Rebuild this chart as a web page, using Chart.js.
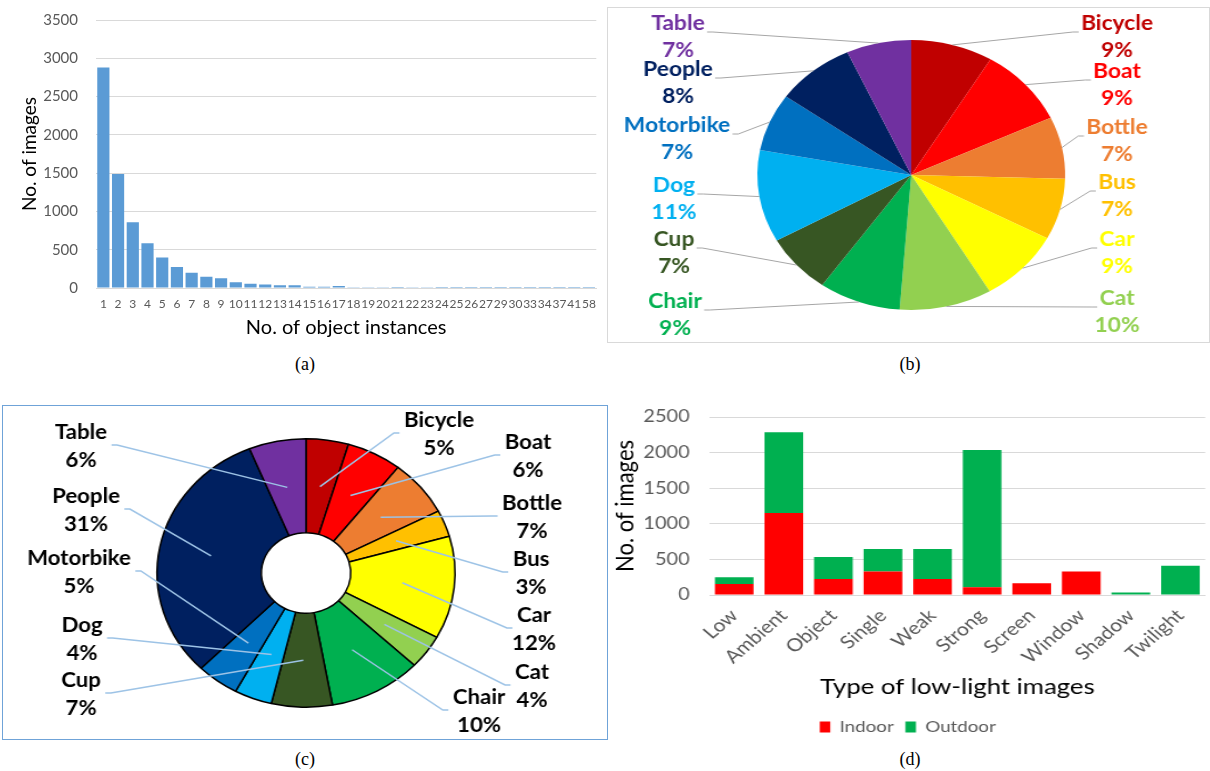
<!DOCTYPE html>
<html>
<head>
<meta charset="utf-8">
<script src="https://cdn.jsdelivr.net/npm/chart.js@4.4.0/dist/chart.umd.min.js"></script>
<style>
  html, body { margin: 0; padding: 0; background: #fff; }
  body { width: 1210px; height: 771px; position: relative; overflow: hidden; }
  .panel { position: absolute; }
  .stretch { position: absolute; left: 0; top: 0; transform-origin: 0 0; }
  .cap { position: absolute; font-family: "Liberation Serif", serif; font-size: 18px; color: #000; transform: translateX(-50%); }
</style>
</head>
<body>
<div class="panel" style="left:0;top:0;width:605px;height:345px"><canvas id="chartA"></canvas></div>
<div class="panel" style="left:607px;top:7px;width:601px;height:334px;border:1px solid #d9d9d9">
  <div class="stretch" style="width:527px;height:334px;transform:scaleX(1.14)"><canvas id="chartB"></canvas></div>
</div>
<div class="panel" style="left:2px;top:405px;width:604px;height:333px;border:1px solid #6fa3d8">
  <div class="stretch" style="width:544px;height:333px;transform:scaleX(1.11)"><canvas id="chartC"></canvas></div>
</div>
<div class="panel" style="left:610px;top:400px;width:600px;height:345px">
  <div class="stretch" style="width:513px;height:345px;transform:scaleX(1.17)"><canvas id="chartD"></canvas></div>
</div>
<div class="cap" style="left:305px;top:354px">(a)</div>
<div class="cap" style="left:910px;top:354px">(b)</div>
<div class="cap" style="left:305px;top:749px">(c)</div>
<div class="cap" style="left:910px;top:749px">(d)</div>
<script>
// (a) images per number of object instances
const instanceLabels = ['1','2','3','4','5','6','7','8','9','10','11','12','13','14','15','16','17',
  '18','19','20','21','22','23','24','25','26','27','29','30','33','34','37','41','58'];
const instanceCounts = [2880, 1490, 858, 585, 398, 273, 198, 148, 127, 76, 55, 46, 35, 35, 15, 15, 26,
  3, 2, 2, 14, 3, 2, 1, 1, 1, 1, 1, 1, 1, 1, 1, 1, 1];
const countTicks = [0, 500, 1000, 1500, 2000, 2500, 3000, 3500];

// (b) and (c) object classes
const classes = ['Bicycle', 'Boat', 'Bottle', 'Bus', 'Car', 'Cat', 'Chair', 'Cup', 'Dog', 'Motorbike', 'People', 'Table'];
const classColors = ['#C00000', '#FF0000', '#ED7D31', '#FFC000', '#FFFF00', '#92D050', '#00B050', '#375623', '#00B0F0', '#0070C0', '#002060', '#7030A0'];
const imageShare = [8.6, 9.4, 7.4, 7.3, 8.7, 9.7, 8.6, 7.1, 11.0, 6.9, 8.3, 6.8];
const instanceShare = [4.6, 6.0, 6.8, 3.2, 12.4, 4.1, 10.1, 6.6, 4.1, 4.6, 31.4, 6.2];

// (d) low-light types
const lowLightTypes = ['Low', 'Ambient', 'Object', 'Single', 'Weak', 'Strong', 'Screen', 'Window', 'Shadow', 'Twilight'];
const indoor = [155, 1150, 225, 330, 225, 110, 165, 330, 0, 0];
const outdoor = [95, 1135, 310, 317, 420, 1925, 0, 0, 35, 410];
const typeTicks = [0, 500, 1000, 1500, 2000, 2500];

// label layout (panel pixels, name line) for the two pies
const labelPosB = [[509,16],[509,64],[509,120],[509,175],[509,232],[509,291],[67,294],[66,232],[66,178],[69,118],[70,62],[70,16]];
const labelPosC = [[436,15],[525,37],[529,98],[528,154],[531,210],[529,267],[476,292],[78,275],[79,220],[76,153],[83,91],[78,27]];

Chart.defaults.font.family = "Lato, 'Noto Sans', sans-serif";
Chart.defaults.animation = false;
Chart.defaults.plugins.tooltip.enabled = false;

const tickGray = '#595959';
const gridGray = '#D9D9D9';
const plain = v => String(v);

new Chart(document.getElementById('chartA'), {
  type: 'bar',
  data: {
    labels: instanceLabels,
    datasets: [{ data: instanceCounts, backgroundColor: '#5B9BD5', barPercentage: 0.9, categoryPercentage: 0.92 }]
  },
  options: {
    responsive: true,
    maintainAspectRatio: false,
    events: [],
    layout: { padding: { top: 20, right: 6, left: 0, bottom: 0 } },
    plugins: { legend: { display: false } },
    scales: {
      x: {
        grid: { display: false, drawTicks: false },
        border: { color: gridGray },
        ticks: { autoSkip: false, maxRotation: 0, minRotation: 0, padding: 9, color: tickGray, font: { size: 12 } },
        title: { display: true, text: 'No. of object instances', color: '#000', font: { size: 20 }, padding: { bottom: 5 } },
        afterFit: s => { s.height = 57; }
      },
      y: {
        min: 0, max: 3500,
        afterBuildTicks: s => { s.ticks = countTicks.map(v => ({ value: v })); },
        grid: { color: gridGray, drawTicks: true, tickLength: 18, tickColor: 'rgba(0,0,0,0)' },
        border: { display: false },
        ticks: { padding: 0, color: tickGray, font: { size: 15 }, callback: plain },
        title: { display: true, text: 'No. of images', color: '#000', font: { size: 19 }, padding: { top: 18 } },
        afterFit: s => { s.width = 96; }
      }
    }
  }
});

function callouts(cfg) {
  return {
    id: 'callouts',
    afterDatasetsDraw(chart) {
      const ctx = chart.ctx;
      const meta = chart.getDatasetMeta(0);
      const vals = chart.data.datasets[0].data;
      const total = vals.reduce((a, b) => a + b, 0);
      ctx.save();
      ctx.font = cfg.font;
      ctx.textAlign = 'center';
      ctx.textBaseline = 'middle';
      meta.data.forEach((arc, i) => {
        const lx = cfg.pos[i][0] / cfg.stretch;
        const ly = cfg.pos[i][1];
        const mid = (arc.startAngle + arc.endAngle) / 2;
        const r = cfg.anchor === 'outer' ? arc.outerRadius : (arc.innerRadius + arc.outerRadius) / 2;
        const ax = arc.x + Math.cos(mid) * r;
        const ay = arc.y + Math.sin(mid) * r;
        const name = chart.data.labels[i];
        const w = ctx.measureText(name).width;
        const right = lx > arc.x;
        const ex = right ? lx - w / 2 - cfg.gap : lx + w / 2 + cfg.gap;
        const ey = ly + cfg.lineDy;
        ctx.strokeStyle = cfg.lineColor;
        ctx.lineWidth = cfg.lineWidth;
        ctx.beginPath();
        ctx.moveTo(ex, ey);
        ctx.lineTo(right ? ex - 5 : ex + 5, ey);
        ctx.lineTo(ax, ay);
        ctx.stroke();
        ctx.fillStyle = cfg.textColor || classColors[i];
        ctx.fillText(name, lx, ly);
        ctx.fillText(Math.round(vals[i] / total * 100) + '%', lx, ly + cfg.lineGap);
      });
      ctx.restore();
    }
  };
}

new Chart(document.getElementById('chartB'), {
  type: 'pie',
  data: { labels: classes, datasets: [{ data: imageShare, backgroundColor: classColors, borderWidth: 0 }] },
  options: {
    responsive: true,
    maintainAspectRatio: false,
    events: [],
    layout: { padding: { top: 32, bottom: 32, left: 131, right: 126 } },
    plugins: { legend: { display: false } }
  },
  plugins: [callouts({ pos: labelPosB, stretch: 1.14, font: 'bold 20px Lato', anchor: 'outer',
    lineDy: 8, gap: 2, lineColor: '#A6A6A6', lineWidth: 1, lineGap: 27 })]
});

new Chart(document.getElementById('chartC'), {
  type: 'doughnut',
  data: { labels: classes, datasets: [{ data: instanceShare, backgroundColor: classColors, borderColor: '#000', borderWidth: 1.5 }] },
  options: {
    responsive: true,
    maintainAspectRatio: false,
    events: [],
    cutout: '30%',
    layout: { padding: { top: 32, bottom: 31, left: 138, right: 136 } },
    plugins: { legend: { display: false } }
  },
  plugins: [callouts({ pos: labelPosC, stretch: 1.11, font: 'bold 20px Lato', anchor: 'mid', textColor: '#000',
    lineDy: 12, gap: 4, lineColor: '#9DC3E6', lineWidth: 1.5, lineGap: 28 })]
});

new Chart(document.getElementById('chartD'), {
  type: 'bar',
  data: {
    labels: lowLightTypes,
    datasets: [
      { label: 'Indoor', data: indoor, backgroundColor: '#FF0000', barPercentage: 0.78, categoryPercentage: 1 },
      { label: 'Outdoor', data: outdoor, backgroundColor: '#00B050', barPercentage: 0.78, categoryPercentage: 1 }
    ]
  },
  options: {
    responsive: true,
    maintainAspectRatio: false,
    events: [],
    layout: { padding: { top: 17, right: 4, left: 0, bottom: 0 } },
    plugins: {
      legend: {
        position: 'bottom',
        labels: { boxWidth: 9, boxHeight: 11, padding: 10, color: tickGray, font: { size: 16 } }
      }
    },
    scales: {
      x: {
        stacked: true,
        grid: { display: false, drawTicks: false },
        border: { color: gridGray },
        ticks: { maxRotation: 45, minRotation: 45, padding: 10, color: tickGray, font: { size: 18 } },
        title: { display: true, text: 'Type of low-light images', color: '#000', font: { size: 22 }, padding: { bottom: 9 } },
        afterFit: s => { s.height = 114; }
      },
      y: {
        stacked: true,
        min: 0, max: 2500,
        afterBuildTicks: s => { s.ticks = typeTicks.map(v => ({ value: v })); },
        grid: { color: gridGray, drawTicks: true, tickLength: 17, tickColor: 'rgba(0,0,0,0)' },
        border: { display: false },
        ticks: { padding: 0, color: tickGray, font: { size: 17 }, callback: plain },
        title: { display: true, text: 'No. of images', color: '#000', font: { size: 22 }, padding: { top: 0 } },
        afterFit: s => { s.width = 85; }
      }
    }
  }
});
</script>
</body>
</html>
